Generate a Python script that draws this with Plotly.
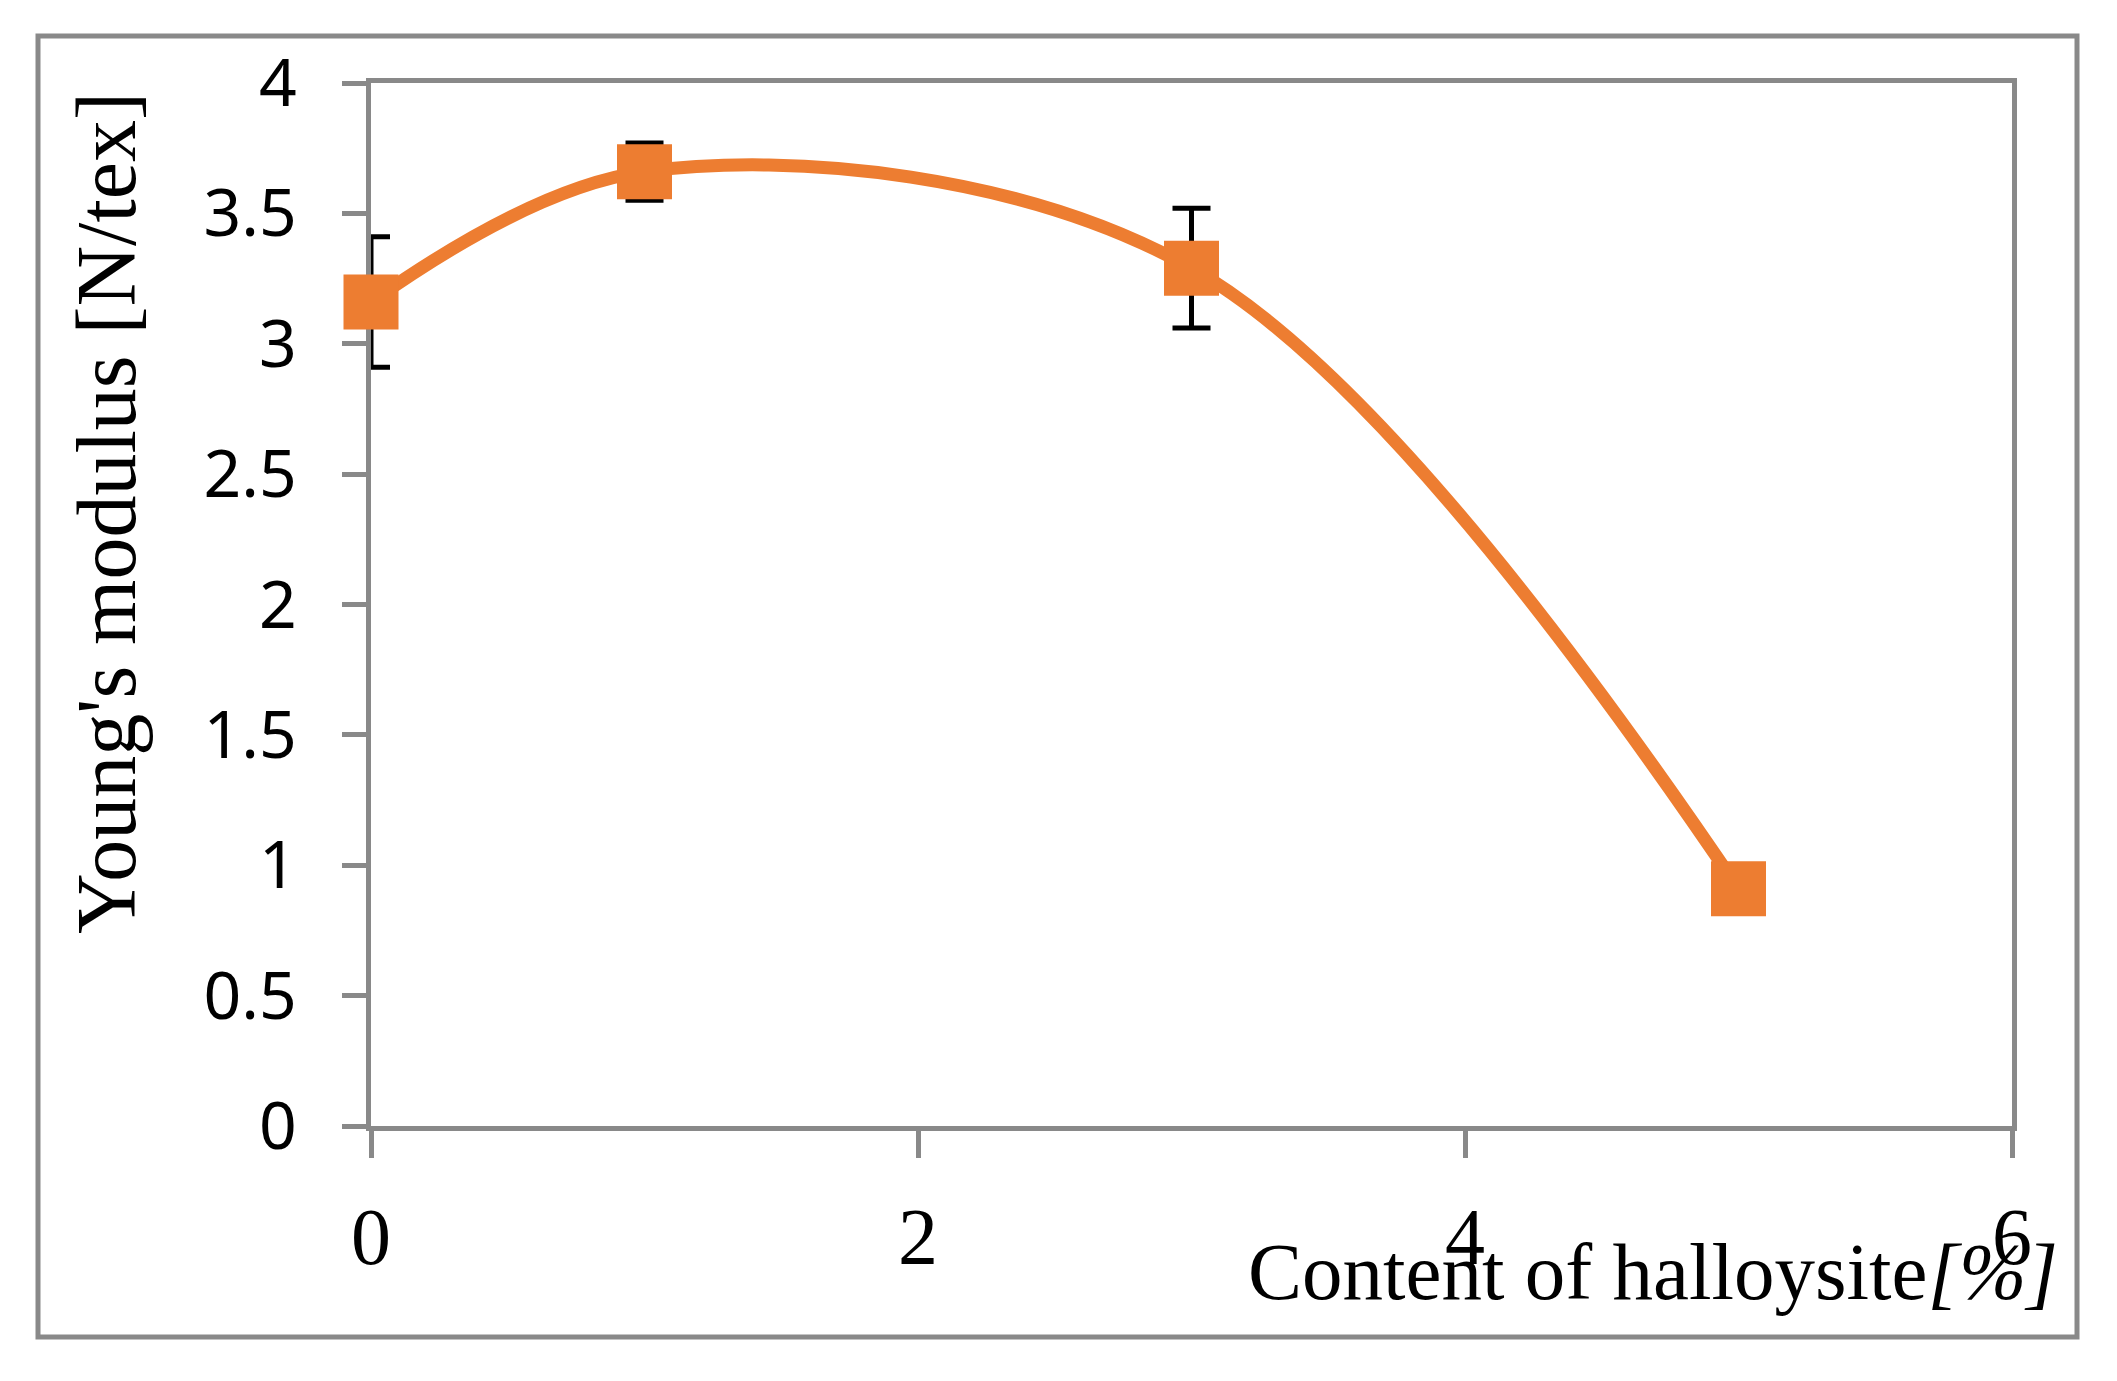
import plotly.graph_objects as go

# Data
content = [0, 1, 3, 5]
modulus = [3.16, 3.66, 3.29, 0.91]
modulus_err = [0.25, 0.11, 0.23, 0.0]
x_ticks = [0, 2, 4, 6]
y_ticks = [0, 0.5, 1, 1.5, 2, 2.5, 3, 3.5, 4]

ORANGE = "#ED7D31"
GREY = "#898989"

W, H = 2117, 1381
L, R, T, B = 371, 105, 83, 255
pw, ph = W - L - R, H - T - B


def px(xp):
    return (xp - L) / pw


def py(yp):
    return (H - B - yp) / ph


fig = go.Figure()

# error bars (clipped to plot area)
fig.add_trace(go.Scatter(
    x=content, y=modulus, mode="markers",
    marker=dict(size=1, color="rgba(0,0,0,0)"),
    error_y=dict(type="data", array=modulus_err, visible=True,
                 color="black", thickness=5, width=19),
    cliponaxis=True, hoverinfo="skip", showlegend=False,
))

# smoothed line with square markers
fig.add_trace(go.Scatter(
    x=content, y=modulus, mode="lines+markers",
    line=dict(color=ORANGE, width=13, shape="spline", smoothing=1.0),
    marker=dict(symbol="square", size=55, color=ORANGE, line=dict(width=0)),
    cliponaxis=False, showlegend=False,
))

fig.update_xaxes(
    range=[0, 6], tickmode="array", tickvals=x_ticks,
    ticktext=[str(v) for v in x_ticks],
    showline=True, linecolor=GREY, linewidth=5, mirror=True,
    ticks="outside", ticklen=27, tickwidth=5, tickcolor=GREY,
    showgrid=False, zeroline=False, layer="below traces",
    tickfont=dict(family="Liberation Serif", size=80, color="black"),
    ticklabelstandoff=10,
)
fig.update_yaxes(
    range=[0, 4], tickmode="array", tickvals=y_ticks,
    ticktext=[f"{v:g}" for v in y_ticks],
    showline=True, linecolor=GREY, linewidth=5, mirror=True,
    ticks="outside", ticklen=24, tickwidth=5, tickcolor=GREY,
    showgrid=False, zeroline=False, layer="below traces",
    tickfont=dict(family="Noto Sans", size=66, color="black"),
    ticklabelstandoff=32,
)

fig.add_annotation(
    text="Content of halloysite<i>[%]</i>", xref="paper", yref="paper",
    x=px(2060), y=py(1272), xanchor="right", yanchor="middle",
    showarrow=False, font=dict(family="Liberation Serif", size=81, color="black"),
)
fig.add_annotation(
    text="Young's modulus [N/tex]", xref="paper", yref="paper",
    x=px(106), y=py(513), xanchor="center", yanchor="middle", textangle=-90,
    showarrow=False, font=dict(family="Liberation Serif", size=84, color="black"),
)

# chart-area border
fig.add_shape(type="rect", xref="paper", yref="paper",
              x0=px(38), x1=px(2077), y0=py(1337), y1=py(36),
              line=dict(color=GREY, width=5), fillcolor="rgba(0,0,0,0)", layer="below")

fig.update_layout(
    width=W, height=H,
    margin=dict(l=L, r=R, t=T, b=B),
    paper_bgcolor="white", plot_bgcolor="white",
    showlegend=False,
)

fig.write_html(
    "out.html",
    config={"displayModeBar": False},
    post_script="document.body.style.margin='0';document.body.style.overflow='hidden';",
)
